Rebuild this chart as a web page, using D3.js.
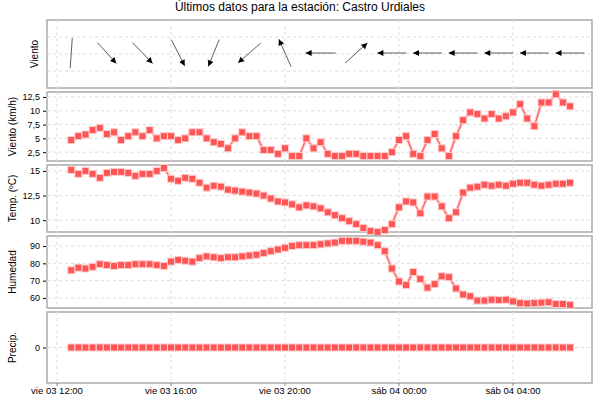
<!DOCTYPE html>
<html><head><meta charset="utf-8">
<script src="https://cdn.jsdelivr.net/npm/d3@7"></script>
<style>body{margin:0;background:#fff}text{font-family:"Liberation Sans",Arial,sans-serif}</style>
</head><body><svg id="c" width="600" height="400"></svg>
<script>
var title = "Últimos datos para la estación: Castro Urdiales";
// 71 readings, every 15 min from vie 03 12:30
var speed = [4.7,5.4,5.7,6.5,6.9,5.8,6.1,4.7,5.4,6.1,5.4,6.5,5.0,5.4,5.4,4.7,5.0,6.1,6.1,5.0,4.3,4.0,3.2,5.0,6.1,5.4,5.4,2.9,2.9,2.2,3.2,1.8,1.8,
  5.0,3.2,4.3,2.2,1.8,1.8,2.2,2.2,1.8,1.8,1.8,1.8,2.5,4.7,5.4,2.2,1.8,4.7,5.8,3.2,1.8,5.4,8.3,9.7,9.4,8.6,9.4,8.6,9.0,9.7,11.2,8.6,7.2,11.5,11.5,13.0,11.5,10.8];
var temp = [15.1,14.7,15.0,14.7,14.3,14.8,14.9,14.9,14.8,14.5,14.7,14.7,15.0,15.3,14.2,14.0,14.3,14.2,13.8,13.3,13.5,13.4,13.1,13.0,12.9,12.8,12.7,12.5,12.2,11.9,
  11.8,11.6,11.3,11.5,11.4,11.2,10.8,10.5,10.2,9.9,9.6,9.2,8.9,8.8,9.0,9.6,11.3,11.9,11.8,10.7,12.4,12.4,11.4,10.2,10.8,12.8,13.3,13.4,13.6,13.5,13.6,13.5,13.7,13.8,13.8,13.6,13.5,13.6,13.7,13.7,13.8];
var hum = [76,77.5,77,78,79.5,79,78.5,79,79,79.5,79.5,79.5,79,78.5,81,82,81.5,81,83,84,83.5,83,83.5,83.5,84,84.5,85,86,87,88,
  89,90,90.5,90.5,90.5,91,91.5,92,93,93,93,92.5,92,90.5,87,77,69.5,67.5,75,71,66,68,72.5,72,65.5,62,61,58.5,58.5,59,58.8,59,58,57,56.8,57,57.3,57.5,56.5,56.5,56];
var precip = hum.map(function(){ return 0; });
// wind arrows every 5th reading: bearing the arrow points to (deg from up, clockwise) and length
var arrowDir = [4,138,136,153,202,229,336,270,48,270,270,270,270,270,270];
var arrowLen = [30,28,29,29,29,30,30,30,30,29,29,29,29,29,29];
var dayNames = ["dom","lun","mar","mié","jue","vie","sáb"];

var svg = d3.select("#c");
var start = new Date(2021, 8, 3, 12, 30);
var times = speed.map(function(d, i){ return d3.timeMinute.offset(start, 15 * i); });
var x = d3.scaleLinear().domain([new Date(2021,8,3,12,0).getTime(), new Date(2021,8,4,4,0).getTime()]).range([57, 513]);
var L = 47, R = 592;
var ticksT = d3.range(0, 5).map(function(i){ return new Date(2021,8,3,12 + 4*i, 0); });

svg.append("text").attr("x", 300).attr("y", 11).attr("text-anchor", "middle").style("font-size", "12px").text(title);

function panel(top, bottom, label, domain, tickVals, fmt, values) {
  var y = d3.scaleLinear().domain(domain).range([bottom, top]);
  var g = svg.append("g");
  g.append("rect").attr("x", L).attr("y", top).attr("width", R - L).attr("height", bottom - top)
    .attr("fill", "#fff").attr("stroke", "#aaa").attr("stroke-width", 1.5);
  g.selectAll(".vg").data(ticksT).join("line").attr("x1", function(d){ return x(d); }).attr("x2", function(d){ return x(d); })
    .attr("y1", top).attr("y2", bottom).attr("stroke", "#ddd").attr("stroke-dasharray", "3,3");
  g.selectAll(".hg").data(tickVals).join("line").attr("x1", L).attr("x2", R)
    .attr("y1", function(d){ return y(d); }).attr("y2", function(d){ return y(d); }).attr("stroke", "#ddd").attr("stroke-dasharray", "3,3");
  if (fmt) {
    var ax = g.append("g").attr("transform", "translate(" + (L - 1) + ",0)")
      .call(d3.axisLeft(y).tickValues(tickVals).tickSize(3).tickFormat(fmt));
    ax.select(".domain").remove();
    ax.selectAll("text").style("font-size", "9px").attr("font-family", "Liberation Sans");
  }
  g.append("text").attr("transform", "translate(" + (fmt ? 16 : 38) + "," + ((top + bottom) / 2) + ") rotate(-90)")
    .attr("text-anchor", "middle").style("font-size", "10px").text(label);
  if (values) {
    var line = d3.line().x(function(d, i){ return x(times[i]); }).y(function(d){ return y(d); });
    g.append("path").datum(values).attr("d", line).attr("fill", "none").attr("stroke", "#fbb").attr("stroke-width", 3);
    g.append("path").datum(values).attr("d", line).attr("fill", "none").attr("stroke", "#f55").attr("stroke-width", 1);
    g.selectAll(".pt").data(values).join("rect")
      .attr("x", function(d, i){ return x(times[i]) - 3.5; }).attr("y", function(d){ return y(d) - 3.5; })
      .attr("width", 7).attr("height", 7).attr("fill", "#f55").attr("stroke", "#fcc").attr("stroke-width", 1);
  }
  return y;
}

var fmtC = function(d){ return String(d).replace(".", ","); };
// wind direction panel
panel(20, 88, "Viento", [0, 4], [1, 2, 3], null, null);
var ga = svg.append("g");
arrowDir.forEach(function(b, k){
  var cx = x(times[k * 5]), cy = 53, r = arrowLen[k] / 2, a = b * Math.PI / 180;
  var dx = Math.sin(a) * r, dy = -Math.cos(a) * r;
  ga.append("line").attr("x1", cx - dx).attr("y1", cy - dy).attr("x2", cx + dx).attr("y2", cy + dy).attr("stroke", "#333").attr("stroke-width", 0.8);
  var hx = cx + dx, hy = cy + dy, ux = dx / r, uy = dy / r;
  if (k > 0) ga.append("path").attr("d", "M" + hx + "," + hy + "L" + (hx - 6*ux - 3*uy) + "," + (hy - 6*uy + 3*ux) + "L" + (hx - 6*ux + 3*uy) + "," + (hy - 6*uy - 3*ux) + "Z").attr("fill", "#000");
});
panel(92, 161, "Viento (km/h)", [0.9, 13.4], [2.5, 5, 7.5, 10, 12.5], fmtC, speed);
panel(165, 232, "Temp. (ºC)", [8.8, 15.6], [10, 12.5, 15], fmtC, temp);
panel(236, 308, "Humedad", [54.2, 95.8], [60, 70, 80, 90], fmtC, hum);
panel(312, 383, "Precip.", [-1, 1], [0], fmtC, precip);

svg.selectAll(".xt").data(ticksT).join("text").attr("x", function(d){ return x(d); }).attr("y", 394)
  .attr("text-anchor", "middle").style("font-size", "9.5px")
  .text(function(d){ return dayNames[d.getDay()] + " " + d3.timeFormat("%d %H:%M")(d); });
svg.selectAll(".xtk").data(ticksT).join("line").attr("x1", function(d){ return x(d); }).attr("x2", function(d){ return x(d); })
  .attr("y1", 383).attr("y2", 386).attr("stroke", "#888");
</script></body></html>
